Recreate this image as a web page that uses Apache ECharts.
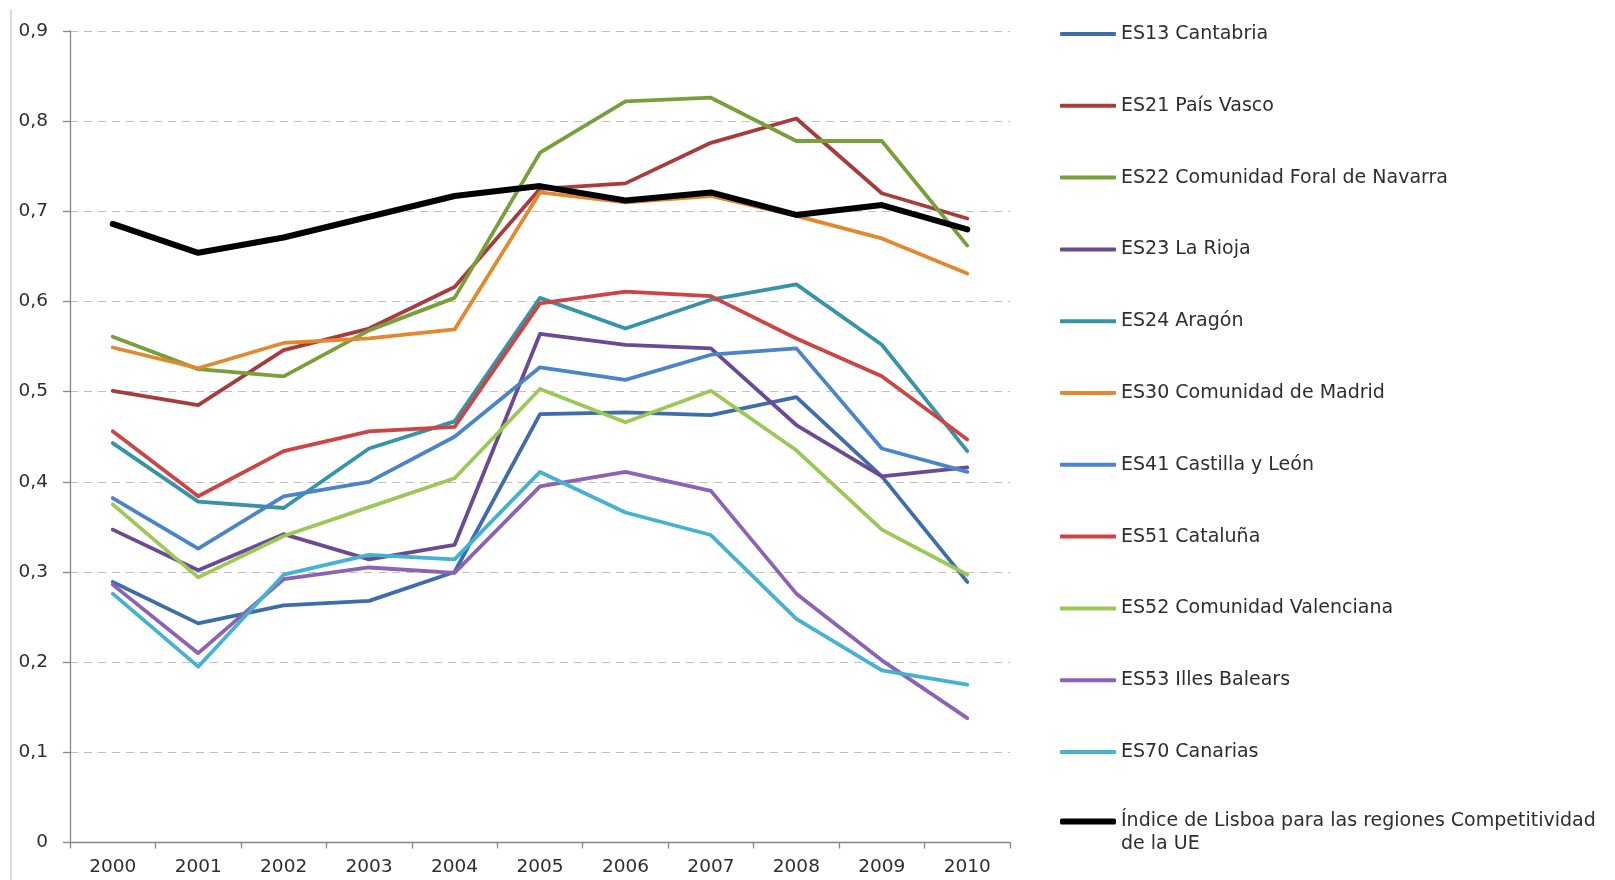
<!DOCTYPE html>
<html>
<head>
<meta charset="utf-8">
<title>Índice de Lisboa - regiones</title>
<script src="https://cdn.jsdelivr.net/npm/echarts@6/dist/echarts.min.js"></script>
<style>
    html, body { margin: 0; padding: 0; background: #fff; }
    #main { width: 1615px; height: 880px; }
</style>
</head>
<body>
<div id="main"></div>
<script>
// años
var years = ['2000', '2001', '2002', '2003', '2004', '2005', '2006', '2007', '2008', '2009', '2010'];
// marcas del eje Y
var yTicks = [0, 0.1, 0.2, 0.3, 0.4, 0.5, 0.6, 0.7, 0.8, 0.9];

// valores por región
var es13 = [0.289, 0.243, 0.263, 0.268, 0.300, 0.475, 0.477, 0.474, 0.494, 0.406, 0.289];
var es21 = [0.501, 0.485, 0.546, 0.570, 0.616, 0.725, 0.731, 0.776, 0.803, 0.720, 0.692];
var es22 = [0.561, 0.525, 0.517, 0.568, 0.604, 0.765, 0.822, 0.826, 0.778, 0.778, 0.662];
var es23 = [0.347, 0.302, 0.342, 0.314, 0.330, 0.564, 0.552, 0.548, 0.463, 0.406, 0.416];
var es24 = [0.443, 0.378, 0.371, 0.437, 0.467, 0.604, 0.570, 0.602, 0.619, 0.552, 0.434];
var es30 = [0.549, 0.526, 0.554, 0.559, 0.569, 0.721, 0.710, 0.717, 0.695, 0.670, 0.631];
var es41 = [0.382, 0.326, 0.384, 0.400, 0.450, 0.527, 0.513, 0.541, 0.548, 0.437, 0.411];
var es51 = [0.456, 0.384, 0.434, 0.456, 0.461, 0.598, 0.611, 0.606, 0.559, 0.517, 0.447];
var es52 = [0.375, 0.294, 0.340, 0.372, 0.404, 0.503, 0.466, 0.501, 0.435, 0.347, 0.297];
var es53 = [0.286, 0.210, 0.292, 0.305, 0.299, 0.395, 0.411, 0.390, 0.276, 0.202, 0.138];
var es70 = [0.276, 0.195, 0.297, 0.319, 0.314, 0.411, 0.366, 0.341, 0.248, 0.191, 0.175];
var lisboa = [0.686, 0.654, 0.671, 0.694, 0.717, 0.728, 0.712, 0.721, 0.696, 0.707, 0.680];

var names = ['ES13 Cantabria', 'ES21 País Vasco', 'ES22 Comunidad Foral de Navarra', 'ES23 La Rioja',
    'ES24 Aragón', 'ES30 Comunidad de Madrid', 'ES41 Castilla y León', 'ES51 Cataluña',
    'ES52 Comunidad Valenciana', 'ES53 Illes Balears', 'ES70 Canarias'];
var lisboaName = 'Índice de Lisboa para las regiones Competitividad de la UE';
var values = [es13, es21, es22, es23, es24, es30, es41, es51, es52, es53, es70];
var colors = ['#3d6daa', '#a83c3c', '#78a03a', '#6a4a94', '#3794a8', '#e2882e',
    '#4a85cb', '#cc4444', '#9cc855', '#8c62b5', '#45b2cf'];

var fontName = 'DejaVu Sans';
var textColor = '#2e2e2e';

var myChart = echarts.init(document.getElementById('main'), null, { renderer: 'canvas' });

var series = [];
for (var i = 0; i < names.length; i++) {
    series.push({
        name: names[i],
        type: 'line',
        data: values[i],
        symbol: 'none',
        color: colors[i],
        lineStyle: { width: 3.8, color: colors[i], cap: 'round', join: 'round' }
    });
}
// la línea negra va encima
series.push({
    name: lisboaName,
    type: 'line',
    data: lisboa,
    symbol: 'none',
    color: '#000',
    lineStyle: { width: 6, color: '#000', cap: 'round', join: 'round' }
});

var option = {
    animation: false,
    backgroundColor: '#fff',
    textStyle: { fontFamily: fontName },
    grid: { left: 70, right: 605, top: 31, bottom: 37.5, containLabel: false },
    legend: [
        {
            data: names,
            orient: 'vertical',
            left: 1055,
            top: 19,
            icon: 'roundRect',
            itemWidth: 56,
            itemHeight: 4,
            itemGap: 51.8,
            selectedMode: false,
            textStyle: { fontFamily: fontName, fontSize: 19, color: textColor, lineHeight: 20 }
        },
        {
            data: [lisboaName],
            orient: 'vertical',
            left: 1055,
            top: 782,
            icon: 'roundRect',
            itemWidth: 56,
            itemHeight: 6,
            selectedMode: false,
            // línea vacía arriba para que el icono quede a la altura de la primera línea
            formatter: function () {
                return '\nÍndice de Lisboa para las regiones Competitividad\nde la UE';
            },
            textStyle: { fontFamily: fontName, fontSize: 19, color: textColor, lineHeight: 23 }
        }
    ],
    xAxis: {
        type: 'category',
        data: years,
        boundaryGap: true,
        axisLine: { lineStyle: { color: '#868686', width: 1.3 } },
        axisTick: { show: true, length: 6, lineStyle: { color: '#868686', width: 1.3 } },
        axisLabel: { color: textColor, fontSize: 18.5, fontFamily: fontName, margin: 15 },
        splitLine: { show: false }
    },
    yAxis: {
        type: 'value',
        min: yTicks[0],
        max: yTicks[yTicks.length - 1],
        interval: 0.1,
        axisLine: { show: true, lineStyle: { color: '#868686', width: 1.3 } },
        axisTick: { show: true, length: 7, lineStyle: { color: '#868686', width: 1.3 } },
        axisLabel: {
            color: textColor,
            fontSize: 18.5,
            fontFamily: fontName,
            margin: 22,
            formatter: function (v) {
                if (Math.abs(v) < 1e-9) { return '0'; }
                return v.toFixed(1).replace('.', ',');
            }
        },
        splitLine: { show: true, lineStyle: { color: '#c0c0c0', width: 1.2, type: [8, 6] } }
    },
    graphic: [
        // borde izquierdo del área del gráfico
        { type: 'line', shape: { x1: 11, y1: 9, x2: 11, y2: 880 }, style: { stroke: '#cfcfcf', lineWidth: 1.5 } }
    ],
    series: series
};

myChart.setOption(option);
</script>
</body>
</html>
